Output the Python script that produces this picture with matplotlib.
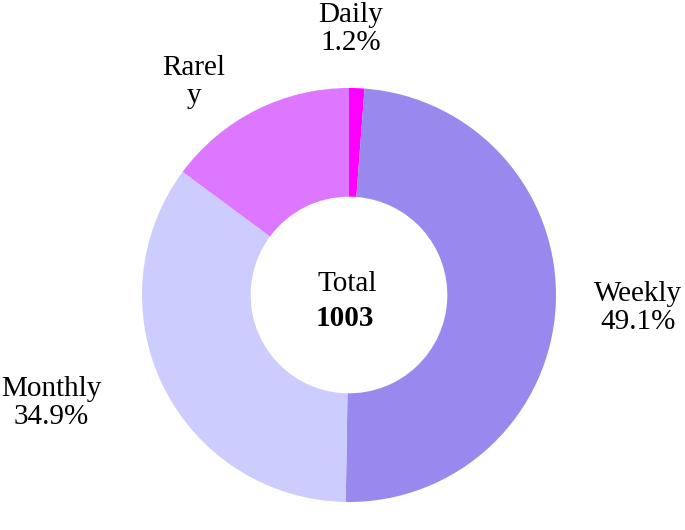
import matplotlib.pyplot as plt

plt.rcParams['font.family'] = ['Liberation Serif', 'DejaVu Serif']

categories = ['Daily', 'Weekly', 'Monthly', 'Rarely']
counts = [12, 492, 350, 149]
colors = ['#FF00FF', '#9988EE', '#CCCCFF', '#DD77FF']
total = sum(counts)

fig = plt.figure(figsize=(6.85, 5.30), dpi=100)
ax = fig.add_axes([0, 0, 1, 1])

# donut, clockwise from 12 o'clock
ax.pie(counts, colors=colors, startangle=90, counterclock=False,
       radius=1.0, wedgeprops=dict(width=0.525, linewidth=0))

# scale: 207 px per unit, centre at (349, 295) px
r = 207.0
ax.set_xlim(-349 / r, (685 - 349) / r)
ax.set_ylim(-(530 - 295) / r, 295 / r)
ax.set_aspect('equal')
ax.axis('off')

def px(x, y):
    return (x - 349) / r, (295 - y) / r

pct = [100 * c / total for c in counts]
fs = 21
kw = dict(ha='center', va='center', fontsize=fs, linespacing=1.12)
ax.text(*px(351, 29), 'Daily\n%.1f%%' % pct[0], **kw)
ax.text(*px(638, 308), 'Weekly\n%.1f%%' % pct[1], **kw)
ax.text(*px(51, 403), 'Monthly\n%.1f%%' % pct[2], **kw)
ax.text(*px(194, 82), 'Rarel\ny', **kw)

ax.text(*px(347, 284), 'Total', **kw)
ax.text(*px(345, 318), str(total), fontweight='bold', **kw)

fig.savefig('out.png', dpi=100)
